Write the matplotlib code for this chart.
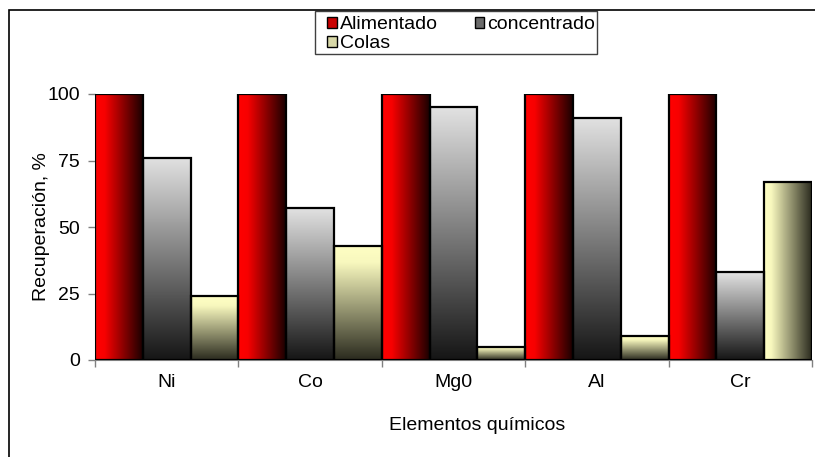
import numpy as np
import matplotlib
matplotlib.use("Agg")
import matplotlib.pyplot as plt
from matplotlib.colors import LinearSegmentedColormap
from matplotlib.patches import Patch, Rectangle

categories = ["Ni", "Co", "Mg0", "Al", "Cr"]
alimentado = [100, 100, 100, 100, 100]
concentrado = [76, 57, 95, 91, 33]
colas = [24, 43, 5, 9, 67]
series_names = ["Alimentado", "concentrado", "Colas"]
yticks = [0, 25, 50, 75, 100]

plt.rcParams['font.family'] = ['Liberation Sans', 'DejaVu Sans']
FS = 14

fig = plt.figure(figsize=(8.15, 4.57), dpi=100)
ax = fig.add_axes([95/815, 1-360/457, (812-95)/815, (360-94)/457])

cmap_red = LinearSegmentedColormap.from_list("r", [(0, "#FF0000"), (0.2, "#F80000"), (1, "#1A0000")])
cmap_grey = LinearSegmentedColormap.from_list("g", [(0, "#E2E2E2"), (1, "#151515")])
cmap_yel = LinearSegmentedColormap.from_list("y", [(0, "#FFFFC4"), (0.15, "#F8F8BE"), (1, "#2A2A1E")])

x = np.arange(len(categories))
w = 1/3
series = [alimentado, concentrado, colas]
cmaps = [cmap_red, cmap_grey, cmap_yel]
# gradient direction: 'h' = left->right, 'v' = top->bottom
directions = [["h"]*5, ["v"]*5, ["v", "v", "v", "v", "h"]]

grad = np.linspace(0, 1, 256)
for si, (vals, cm) in enumerate(zip(series, cmaps)):
    bars = ax.bar(x + (si-1)*w, vals, w, facecolor="none", edgecolor="black",
                  linewidth=1.6, zorder=3)
    for bi, b in enumerate(bars):
        x0, y0 = b.get_x(), b.get_y()
        bw, bh = b.get_width(), b.get_height()
        if directions[si][bi] == "h":
            img = grad[np.newaxis, :]
        else:
            img = grad[:, np.newaxis]
        ax.imshow(img, cmap=cm, extent=[x0, x0+bw, y0, y0+bh], origin="upper",
                  aspect="auto", zorder=2, interpolation="bilinear")

ax.set_xlim(-0.5, len(categories)-0.5)
ax.set_ylim(0, 100)
ax.set_yticks(yticks)
ax.set_yticklabels([str(t) for t in yticks], fontsize=FS)
ax.set_xticks(x)
ax.set_xticklabels(categories, fontsize=FS)
ax.set_xticks(np.arange(len(categories)+1) - 0.5, minor=True)
ax.tick_params(axis="x", which="major", length=0, pad=10)
ax.tick_params(axis="x", which="minor", length=5, color="#808080", width=1)
ax.tick_params(axis="y", length=5, color="#808080", width=1, pad=6)
for s in ["top", "right"]:
    ax.spines[s].set_visible(False)
ax.spines["left"].set_color("#808080")
ax.spines["bottom"].set_color("#808080")
ax.set_ylabel("Recuperación, %", fontsize=FS)
ax.yaxis.set_label_coords(-0.0628, 0.5)
ax.set_xlabel("Elementos químicos", fontsize=FS)
ax.xaxis.set_label_coords(0.533, -0.215)

h_al = Patch(facecolor="#C80000", edgecolor="black", linewidth=1)
h_co = Patch(facecolor="#6A6A6A", edgecolor="black", linewidth=1)
h_cl = Patch(facecolor="#D8D8A8", edgecolor="black", linewidth=1)
# ordered so that the two-column legend reads row-wise
leg = fig.legend([h_al, h_cl, h_co], [series_names[0], series_names[2], series_names[1]],
                 ncol=2, loc="upper left",
                 bbox_to_anchor=(327/815, 1-16/457), fontsize=FS,
                 handlelength=0.5, handleheight=0.5, handletextpad=0.15,
                 columnspacing=1.9, borderpad=0.0, labelspacing=0.1,
                 frameon=False, borderaxespad=0)
fig.patches.append(Rectangle((315/815, 1-54/457), (597-315)/815, 43/457,
                             transform=fig.transFigure, fill=False,
                             edgecolor="#404040", linewidth=1))

fig.patches.append(Rectangle((9/815, -0.1), 1.2, 1-10/457+0.1, transform=fig.transFigure,
                             fill=False, edgecolor="black", linewidth=1.2))

fig.savefig("out.png", dpi=100, facecolor="white")
